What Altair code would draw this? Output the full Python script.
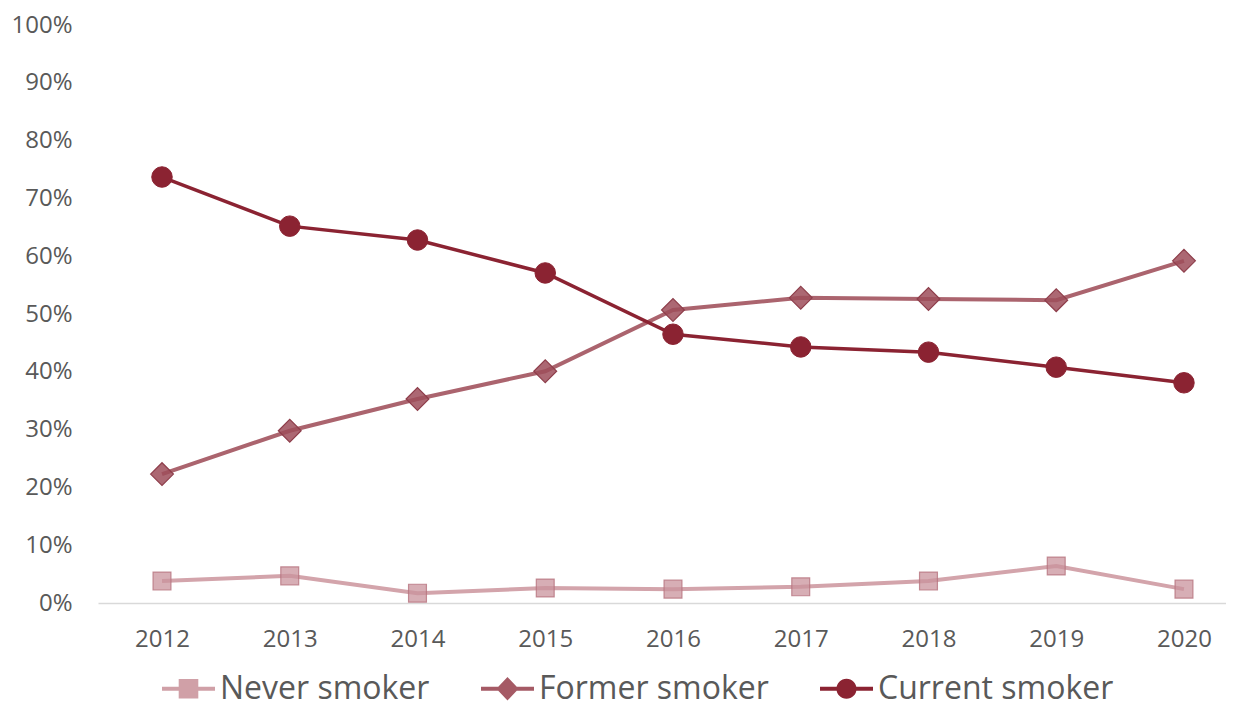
import altair as alt
import pandas as pd

years = [2012, 2013, 2014, 2015, 2016, 2017, 2018, 2019, 2020]
series = ["Never smoker", "Former smoker", "Current smoker"]
never = [3.8, 4.7, 1.7, 2.6, 2.4, 2.8, 3.8, 6.4, 2.4]
former = [22.3, 29.8, 35.3, 40.1, 50.7, 52.8, 52.6, 52.4, 59.2]
current = [73.7, 65.2, 62.8, 57.1, 46.5, 44.3, 43.4, 40.8, 38.1]
y_ticks = [0, 0.1, 0.2, 0.3, 0.4, 0.5, 0.6, 0.7, 0.8, 0.9, 1.0]

line_colors = ["#D3A4AB", "#AB646E", "#8B2332"]
legend_colors = ["#D0A0A7", "#A55A65", "#8B2332"]

rows = []
for s, vals in zip(series, [never, former, current]):
    for yr, v in zip(years, vals):
        rows.append({"year": yr, "series": s, "value": v / 100})
df = pd.DataFrame(rows)

FONT = "Open Sans"
GREY = "#595959"

x_enc = alt.X(
    "year:Q",
    scale=alt.Scale(domain=[2011.499, 2020.329], nice=False, zero=False),
    axis=alt.Axis(values=years, format="d", title=None, ticks=False, grid=False,
                  domainColor="#D9D9D9", domainWidth=1.5, labelFont=FONT,
                  labelFontSize=24, labelColor=GREY, labelPadding=24),
)
y_enc = alt.Y(
    "value:Q",
    scale=alt.Scale(domain=[0, 1], nice=False),
    axis=alt.Axis(values=y_ticks, format=".0%", title=None, ticks=False, grid=False,
                  domain=False, labelFont=FONT, labelFontSize=24, labelColor=GREY,
                  labelPadding=26),
)

marker_styles = {
    "Never smoker": dict(shape="square", size=320, fill="#C9939C", fillOpacity=0.75,
                          stroke="#B7737E", strokeWidth=1.2, strokeOpacity=0.8),
    "Former smoker": dict(shape="diamond", size=520, fill="#9E4E5B", fillOpacity=0.85,
                           stroke="#8E3E4B", strokeWidth=1.2),
    "Current smoker": dict(shape="circle", size=420, fill="#8B2332", fillOpacity=1,
                            stroke="#8B2332", strokeWidth=1),
}
line_widths = {"Never smoker": 4, "Former smoker": 4, "Current smoker": 3.5}

base = alt.Chart(df)
layers = []
for s, lc in zip(series, line_colors):
    sub = base.transform_filter(alt.datum.series == s)
    layers.append(
        sub.mark_line(strokeWidth=line_widths[s], stroke=lc).encode(x=x_enc, y=y_enc)
    )
    layers.append(
        sub.mark_point(filled=True, **marker_styles[s]).encode(x=x_enc, y=y_enc)
    )

bar = "M-1,-0.08H1V0.08H-1Z "
paths = [
    bar + "M-0.37,-0.37H0.37V0.37H-0.37Z",
    bar + "M0,-0.44L0.42,0L0,0.44L-0.42,0Z",
    bar + "M-0.38,0A0.38,0.38,0,1,1,0.38,0A0.38,0.38,0,1,1,-0.38,0Z",
]

leg = dict(orient="none", legendX=64, legendY=637, direction="horizontal", title=None,
           labelFont=FONT, labelFontSize=32, labelColor=GREY, symbolSize=2809,
           labelOffset=5, columnPadding=51, padding=0, symbolStrokeWidth=0,
           labelLimit=600)

legend_layer = base.transform_filter("false").mark_point(filled=True, opacity=1).encode(
    x=x_enc, y=y_enc,
    color=alt.Color("series:N", scale=alt.Scale(domain=series, range=legend_colors),
                    legend=alt.Legend(**leg)),
    shape=alt.Shape("series:N", scale=alt.Scale(domain=series, range=paths),
                    legend=alt.Legend(**leg)),
)

chart = alt.layer(*layers, legend_layer).properties(
    width=1128, height=578,
    autosize=alt.AutoSizeParams(type="none"),
    padding={"left": 90, "top": 17, "right": 0, "bottom": 107},
    background="white",
).configure_view(stroke=None)

chart.save("out.html", embed_options={"renderer": "svg", "actions": False})
